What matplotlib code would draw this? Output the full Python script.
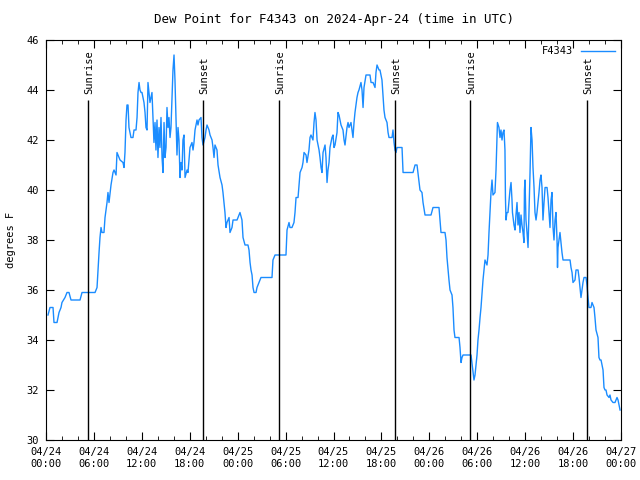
import numpy as np
import matplotlib
matplotlib.use('Agg')
import matplotlib.pyplot as plt

# hours since 2024-04-24 00:00 UTC
hours = [0.25, 0.50, 0.88, 1.00, 1.38, 1.63, 1.88, 2.00, 2.38, 2.63, 2.88, 3.13, 4.26, 4.51, 6.14, 6.39,
         6.51, 6.64, 6.76, 6.89, 7.01, 7.26, 7.39, 7.64, 7.76, 7.89, 8.14, 8.39, 8.52, 8.77, 8.89, 9.27,
         9.64, 9.77, 9.89, 10.02, 10.14, 10.27, 10.39, 10.64, 10.89, 11.02, 11.27, 11.40, 11.52, 11.65,
         11.77, 11.90, 12.02, 12.15, 12.27, 12.40, 12.52, 12.65, 12.77, 13.02, 13.27, 13.40, 13.52, 13.65,
         13.77, 13.90, 14.02, 14.15, 14.27, 14.40, 14.53, 14.65, 14.78, 14.90, 15.03, 15.15, 15.28, 15.40,
         15.53, 15.65, 15.78, 15.90, 16.03, 16.15, 16.28, 16.40, 16.53, 16.65, 16.78, 16.90, 17.03, 17.15,
         17.28, 17.41, 17.66, 17.78, 17.91, 18.03, 18.28, 18.41, 18.53, 18.66, 18.91, 19.03, 19.16, 19.41,
         19.53, 19.66, 19.91, 20.04, 20.16, 20.41, 20.54, 20.79, 20.91, 21.04, 21.16, 21.41, 21.54, 21.79,
         22.04, 22.16, 22.29, 22.41, 22.54, 22.66, 22.92, 23.04, 23.29, 23.42, 23.92, 24.17, 24.29, 24.54,
         24.67, 24.92, 25.29, 25.42, 25.55, 25.67, 25.80, 25.92, 26.05, 26.30, 26.42, 26.67, 26.92, 28.30,
         28.42, 28.68, 30.05, 30.18, 30.43, 30.55, 30.80, 31.05, 31.18, 31.31, 31.56, 31.68, 31.81, 32.06,
         32.18, 32.31, 32.56, 32.68, 32.93, 33.06, 33.18, 33.43, 33.56, 33.68, 33.81, 33.94, 34.19, 34.31,
         34.44, 34.56, 34.69, 34.94, 35.06, 35.19, 35.31, 35.44, 35.56, 35.81, 35.94, 36.06, 36.19, 36.44,
         36.56, 36.69, 36.81, 36.94, 37.19, 37.32, 37.44, 37.69, 37.82, 37.94, 38.19, 38.32, 38.44, 38.57,
         38.69, 38.94, 39.07, 39.19, 39.44, 39.57, 39.70, 39.82, 40.07, 40.57, 40.70, 40.95, 41.20, 41.32,
         41.45, 41.70, 41.82, 42.07, 42.20, 42.32, 42.45, 42.70, 42.83, 42.95, 43.33, 43.45, 43.58, 43.70,
         43.83, 43.95, 44.58, 44.71, 45.96, 46.21, 46.46, 46.71, 46.83, 47.08, 47.21, 47.46, 48.21, 48.46,
         49.21, 49.46, 49.96, 50.09, 50.21, 50.46, 50.59, 50.84, 50.96, 51.09, 51.21, 51.72, 51.84, 51.97,
         52.09, 52.22, 53.22, 53.47, 53.59, 53.72, 53.84, 53.97, 54.09, 54.22, 54.35, 54.47, 54.60, 54.72,
         54.85, 54.97, 55.22, 55.35, 55.47, 55.60, 55.72, 55.85, 55.97, 56.22, 56.35, 56.47, 56.53, 56.72,
         56.85, 56.97, 57.10, 57.22, 57.35, 57.47, 57.53, 57.60, 57.72, 57.85, 58.10, 58.23, 58.35, 58.41,
         58.60, 58.73, 58.85, 58.98, 59.10, 59.23, 59.35, 59.48, 59.60, 59.73, 59.85, 59.91, 59.98, 60.10,
         60.23, 60.36, 60.48, 60.61, 60.73, 60.86, 60.98, 61.11, 61.23, 61.36, 61.48, 61.73, 61.86, 61.98,
         62.11, 62.23, 62.36, 62.49, 62.74, 62.86, 62.99, 63.11, 63.24, 63.36, 63.49, 63.61, 63.74, 63.86,
         63.99, 64.05, 64.11, 64.36, 64.49, 64.61, 64.74, 65.62, 65.74, 65.87, 65.99, 66.24, 66.37, 66.49,
         66.62, 66.74, 66.87, 66.99, 67.12, 67.24, 67.37, 67.62, 67.74, 67.87, 67.99, 68.24, 68.37, 68.62,
         68.74, 68.87, 69.12, 69.24, 69.37, 69.50, 69.75, 69.87, 70.00, 70.12, 70.25, 70.50, 70.62, 70.75,
         71.00, 71.25, 71.50, 71.63, 71.75, 71.88]

dewpoint = [35.0, 35.3, 35.3, 34.7, 34.7, 35.1, 35.3, 35.5, 35.7, 35.9, 35.9, 35.6, 35.6, 35.9, 35.9, 36.1,
            36.8, 37.5, 38.1, 38.5, 38.3, 38.3, 38.9, 39.5, 39.9, 39.5, 40.2, 40.7, 40.8, 40.6, 41.5, 41.2,
            41.1, 40.9, 41.5, 42.8, 43.4, 43.4, 42.5, 42.1, 42.1, 42.4, 42.4, 42.9, 43.9, 44.3,
            44.0, 43.9, 43.9, 43.7, 43.5, 43.1, 42.5, 42.4, 44.3, 43.5, 43.9, 42.8, 41.9, 42.7,
            41.6, 42.8, 41.3, 42.5, 41.7, 42.9, 41.3, 40.7, 42.7, 41.3, 41.7, 43.3, 42.5, 42.9,
            42.1, 42.5, 43.7, 44.8, 45.4, 44.4, 42.9, 41.4, 42.5, 42.0, 40.5, 41.1, 40.8, 42.0,
            42.2, 40.5, 40.8, 40.7, 41.2, 41.7, 41.9, 41.6, 41.9, 42.4, 42.8, 42.6, 42.8, 42.9,
            42.1, 41.8, 42.1, 42.4, 42.6, 42.4, 42.2, 42.0, 41.7, 41.3, 41.8, 41.6, 41.0, 40.5,
            40.2, 39.9, 39.5, 39.1, 38.5, 38.7, 38.9, 38.3, 38.5, 38.8, 38.8, 39.0, 39.1, 38.8,
            38.1, 37.8, 37.8, 37.6, 37.1, 36.8, 36.6, 36.1, 35.9, 35.9, 36.1, 36.3, 36.5, 36.5,
            37.2, 37.4, 37.4, 38.4, 38.7, 38.5, 38.5, 38.7, 39.1, 39.7, 39.7, 40.2, 40.7, 40.9,
            41.1, 41.5, 41.4, 41.1, 41.6, 42.1, 42.2, 42.0, 42.7, 43.1, 42.8, 42.0, 41.6, 41.3,
            40.9, 40.7, 41.5, 41.8, 41.3, 40.3, 40.8, 41.1, 41.7, 42.1, 42.2, 41.7, 41.8, 42.3,
            43.1, 43.0, 42.8, 42.6, 42.4, 42.0, 41.8, 42.5, 42.7, 42.5, 42.7, 42.4, 42.1, 42.7,
            43.1, 43.7, 43.9, 44.0, 44.3, 44.0, 43.3, 44.1, 44.6, 44.6, 44.3, 44.3, 44.1, 44.7,
            45.0, 44.8, 44.8, 44.4, 43.8, 43.2, 42.9, 42.7, 42.3, 42.1, 42.1, 42.4, 41.9, 41.6,
            41.5, 41.7, 41.7, 40.7, 40.7, 41.0, 41.0, 40.3, 40.0, 39.9, 39.5, 39.0, 39.0, 39.3,
            39.3, 38.3, 38.3, 38.0, 37.3, 36.4, 36.0, 35.8, 35.3, 34.4, 34.1, 34.1, 33.7, 33.1,
            33.3, 33.4, 33.4, 32.7, 32.4, 32.6, 33.0, 33.4, 34.0, 34.4, 34.9, 35.3, 35.9, 36.4,
            36.8, 37.2, 37.0, 37.4, 38.3, 39.1, 39.9, 40.4, 39.8, 39.9, 40.8, 42.0, 42.7, 42.5,
            42.1, 42.4, 42.0, 42.3, 42.4, 41.6, 39.7, 38.8, 39.1, 39.1, 40.0, 40.3, 39.6, 39.1,
            38.6, 38.4, 39.0, 39.5, 38.6, 39.1, 38.3, 39.0, 38.6, 38.3, 37.9, 40.0, 40.4, 38.8,
            38.3, 37.7, 39.1, 40.7, 42.5, 42.0, 40.9, 40.1, 39.1, 38.8, 39.1, 39.9, 40.4, 40.6,
            40.1, 38.8, 39.5, 40.1, 40.1, 39.7, 39.1, 38.5, 39.6, 39.9, 38.5, 38.0, 38.8, 39.1,
            38.0, 36.9, 37.7, 38.3, 37.9, 37.5, 37.2, 37.2, 36.9, 36.7, 36.3, 36.4, 36.8, 36.8,
            36.8, 36.5, 36.1, 35.7, 36.0, 36.3, 36.5, 36.5, 36.2, 35.7, 35.3, 35.3, 35.5, 35.3,
            34.9, 34.4, 34.1, 33.3, 33.2, 33.2, 32.8, 32.1, 32.0, 32.0, 31.8, 31.7, 31.8, 31.6,
            31.5, 31.5, 31.7, 31.6, 31.4, 31.2]

sun_times = [5.30, 19.70, 29.22, 43.74, 53.13, 67.78]
sun_labels = ['Sunrise', 'Sunset', 'Sunrise', 'Sunset', 'Sunrise', 'Sunset']

tick_hours = list(range(0, 73, 6))
tick_labels = ['04/24\n00:00', '04/24\n06:00', '04/24\n12:00', '04/24\n18:00',
               '04/25\n00:00', '04/25\n06:00', '04/25\n12:00', '04/25\n18:00',
               '04/26\n00:00', '04/26\n06:00', '04/26\n12:00', '04/26\n18:00',
               '04/27\n00:00']

plt.rcParams['font.family'] = 'DejaVu Sans Mono'
plt.rcParams['font.size'] = 7.5

fig = plt.figure(figsize=(6.4, 4.8), dpi=100)
ax = fig.add_axes([46/640, 40/480, 575/640, 400/480])

ax.plot(hours, dewpoint, color='#1a8cff', lw=1, label='F4343')

# sunrise / sunset markers
for t, lab in zip(sun_times, sun_labels):
    ax.vlines(t, 30, 43.6, color='black', lw=1)
    ax.text(t + 0.15, 43.85, lab, rotation=90, ha='center', va='bottom')

ax.set_xlim(0, 72)
ax.set_ylim(30, 46)
ax.set_xticks(tick_hours)
ax.set_xticklabels(tick_labels)
ax.set_xticks(range(0, 73, 2), minor=True)
ax.set_yticks(range(30, 47, 2))
ax.tick_params(which='both', direction='in', top=True, right=True)
ax.tick_params(which='major', length=6, pad=5)
ax.tick_params(which='minor', length=3)

ax.set_ylabel('degrees F')
ax.yaxis.set_label_coords(-0.053, 0.5)
ax.set_title('Dew Point for F4343 on 2024-Apr-24 (time in UTC)', pad=12)

ax.legend(loc='upper right', frameon=False, markerfirst=False, handlelength=3.2,
          borderaxespad=0.2)

fig.savefig('out.png', dpi=100)
